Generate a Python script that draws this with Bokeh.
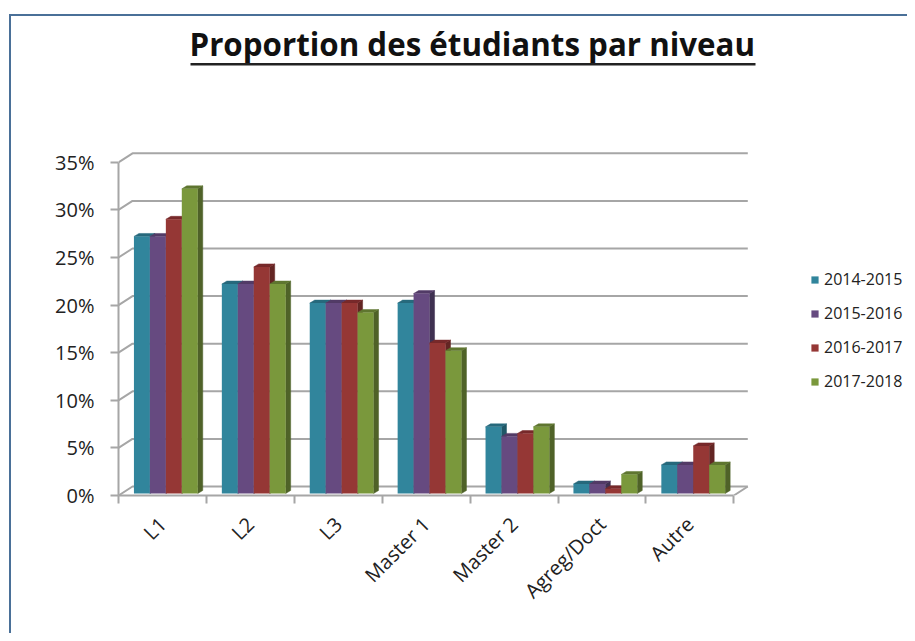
from bokeh.plotting import figure
from bokeh.embed import file_html
from bokeh.resources import INLINE
from bokeh.models import (Range1d, FixedTicker, PrintfTickFormatter, Legend, LegendItem,
                          BoxAnnotation)
import math

categories = ["L1", "L2", "L3", "Master 1", "Master 2", "Agreg/Doct", "Autre"]
s2014 = [27, 22, 20, 20, 7, 1, 3]
s2015 = [27, 22, 20, 21, 6, 1, 3]
s2016 = [28.8, 23.8, 20, 15.8, 6.3, 0.5, 5]
s2017 = [32, 22, 19, 15, 7, 2, 3]
series_names = ["2014-2015", "2015-2016", "2016-2017", "2017-2018"]
series_values = [s2014, s2015, s2016, s2017]
y_ticks = [0, 5, 10, 15, 20, 25, 30, 35]

front = ["#31859C", "#664A80", "#953735", "#7A983C"]
side = ["#205867", "#3F3151", "#632523", "#4F6228"]
top = ["#27697C", "#523B66", "#77292A", "#5F7630"]
GRID = "#a6a6a6"
BORDER = "#4A7098"

PX_X = 87.9   # pixels per category
PX_Y = 9.52   # pixels per percent
W_X, W_Y = 14 / PX_X, 9 / PX_Y      # back wall shift
B_X, B_Y = 3.4 / PX_X, 2 / PX_Y     # bar plane shift
D_X, D_Y = 5 / PX_X, 3 / PX_Y       # bar depth
GROUP = 0.726
BAR = GROUP / 4

W, H = 907, 633
L, T, B = 118, 60, 138
frame_w, frame_h = W - L, H - T - B

p = figure(width=W, height=H, output_backend="svg", toolbar_location=None,
           x_range=Range1d(0, frame_w / PX_X), y_range=Range1d(0, frame_h / PX_Y),
           min_border_left=L, min_border_right=0, min_border_top=T, min_border_bottom=B,
           outline_line_color=None, background_fill_color="white", border_fill_color=None,
           styles={"box-shadow": "inset 9px 14px 0 0 white, inset 11px 16px 0 0 " + BORDER})
p.grid.visible = False

p.title.text = "Proportion des étudiants par niveau"
p.title.text_font = "Open Sans"
p.title.text_font_style = "bold"
p.title.text_font_size = "31.3px"
p.title.text_color = "#111111"
p.title.align = "left"
p.title.offset = 71
p.title.standoff = -9

xa = p.xaxis[0]
centers = [i + 0.5 for i in range(len(categories))]
xa.ticker = FixedTicker(ticks=centers, minor_ticks=list(range(len(categories) + 1)))
xa.major_label_overrides = {c: n for c, n in zip(centers, categories)}
xa.major_tick_line_color = None
xa.major_tick_in = 0
xa.major_tick_out = 0
xa.minor_tick_line_color = GRID
xa.minor_tick_line_width = 2
xa.minor_tick_in = 0
xa.minor_tick_out = 8
xa.axis_line_color = GRID
xa.axis_line_width = 2
xa.bounds = (0, len(categories))
xa.major_label_orientation = math.pi / 4
xa.major_label_standoff = 17
xa.major_label_text_font = "Open Sans"
xa.major_label_text_font_size = "20px"
xa.major_label_text_color = "#222222"

ya = p.yaxis[0]
ya.ticker = FixedTicker(ticks=y_ticks, minor_ticks=[])
ya.formatter = PrintfTickFormatter(format="%d%%")
ya.bounds = (y_ticks[0], y_ticks[-1])
ya.axis_line_color = GRID
ya.axis_line_width = 2
ya.major_tick_line_color = GRID
ya.major_tick_line_width = 2
ya.major_tick_in = 0
ya.major_tick_out = 8
ya.major_label_standoff = 16
ya.major_label_text_font = "Open Sans"
ya.major_label_text_font_size = "20px"
ya.major_label_text_color = "#222222"

n = len(categories)
xs, ys = [], []
for t in y_ticks:
    xs.append([0, W_X, n + W_X]); ys.append([t, t + W_Y, t + W_Y])
xs.append([n, n + W_X]); ys.append([0, W_Y])
p.multi_line(xs, ys, line_color=GRID, line_width=2)

renderers = []
for k, vals in enumerate(series_values):
    lefts = [i + 0.5 - GROUP / 2 + B_X + k * BAR for i in range(n)]
    rights = [l + BAR for l in lefts]
    sx = [[r, r + D_X, r + D_X, r] for r in rights]
    sy = [[B_Y, B_Y + D_Y, B_Y + D_Y + v, B_Y + v] for v in vals]
    tx = [[l, l + D_X, r + D_X, r] for l, r in zip(lefts, rights)]
    ty = [[B_Y + v, B_Y + D_Y + v, B_Y + D_Y + v, B_Y + v] for v in vals]
    p.patches(sx, sy, fill_color=side[k], line_color=side[k], line_width=0.5)
    p.patches(tx, ty, fill_color=top[k], line_color=top[k], line_width=0.5)
    r = p.quad(left=lefts, right=rights, bottom=[B_Y] * n, top=[B_Y + v for v in vals],
               fill_color=front[k], line_color=None)
    renderers.append(r)

legend = Legend(items=[LegendItem(label=nm, renderers=[r]) for nm, r in zip(series_names, renderers)],
                location=(692, 103), orientation="vertical",
                glyph_width=9, glyph_height=9, spacing=12, padding=0, margin=0,
                label_standoff=5, label_text_font="Open Sans", label_text_font_size="16px",
                label_text_color="#222222", background_fill_alpha=0, border_line_color=None)
p.add_layout(legend, "center")

# title underline
p.add_layout(BoxAnnotation(left=190, right=755, top=62.5, bottom=65, left_units="canvas", right_units="canvas",
                           top_units="canvas", bottom_units="canvas", fill_color="#222222", fill_alpha=1,
                           line_color=None, level="overlay"))

open("out.html", "w").write(file_html(p, INLINE))
